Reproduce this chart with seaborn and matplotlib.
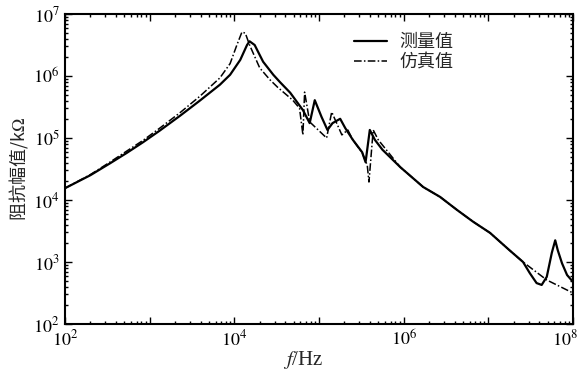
import numpy as np
import pandas as pd
import matplotlib
matplotlib.use("Agg")
import matplotlib.pyplot as plt
import matplotlib.transforms as mtransforms
import seaborn as sns
from matplotlib.ticker import LogLocator, FixedLocator, FixedFormatter, NullFormatter
from matplotlib.lines import Line2D

# log10(frequency / Hz) and log10(impedance / kOhm)
meas_logf = [2.00, 2.30, 2.53, 2.73, 2.92, 3.12, 3.36, 3.59, 3.83, 3.95, 4.07, 4.15, 4.18,
             4.24, 4.34, 4.46, 4.54, 4.66, 4.81, 4.89, 4.95, 5.03, 5.10, 5.16, 5.25, 5.31,
             5.40, 5.51, 5.55, 5.60, 5.66, 5.75, 5.96, 6.23, 6.43, 6.63, 6.82, 7.02, 7.25,
             7.41, 7.49, 7.57, 7.63, 7.69, 7.75, 7.79, 7.82, 7.87, 7.93, 8.00]
meas_logz = [4.19, 4.40, 4.59, 4.76, 4.93, 5.12, 5.36, 5.60, 5.86, 6.02, 6.26, 6.50, 6.56,
             6.50, 6.23, 6.02, 5.90, 5.73, 5.45, 5.24, 5.61, 5.34, 5.13, 5.24, 5.31, 5.16,
             4.97, 4.77, 4.61, 5.13, 4.97, 4.81, 4.53, 4.21, 4.05, 3.84, 3.65, 3.47, 3.19,
             3.00, 2.82, 2.66, 2.63, 2.76, 3.15, 3.35, 3.19, 2.98, 2.79, 2.68]

sim_logf = [2.00, 2.30, 2.53, 2.73, 2.92, 3.12, 3.36, 3.59, 3.83, 3.95, 4.03, 4.09, 4.13, 4.18,
            4.30, 4.42, 4.51, 4.69, 4.77, 4.81, 4.83, 4.89, 5.09, 5.15, 5.27, 5.34, 5.40,
            5.51, 5.57, 5.59, 5.64, 5.70, 5.96, 6.23, 6.43, 6.63, 6.82, 7.02, 7.25, 7.41,
            7.69, 8.00]
sim_logz = [4.19, 4.41, 4.61, 4.79, 4.96, 5.16, 5.41, 5.67, 5.97, 6.20, 6.50, 6.71, 6.69, 6.50,
            6.13, 5.94, 5.82, 5.61, 5.48, 5.05, 5.74, 5.26, 5.00, 5.42, 5.05, 5.13, 4.97,
            4.76, 4.56, 4.29, 5.13, 4.97, 4.53, 4.21, 4.05, 3.84, 3.65, 3.47, 3.19, 3.00,
            2.71, 2.50]

series_names = ["测量值", "仿真值"]

df = pd.concat([
    pd.DataFrame({"f": 10 ** np.array(meas_logf), "z": 10 ** np.array(meas_logz), "s": series_names[0]}),
    pd.DataFrame({"f": 10 ** np.array(sim_logf), "z": 10 ** np.array(sim_logz), "s": series_names[1]}),
])

sns.set_theme(style="ticks")
plt.rcParams["font.family"] = ["Liberation Serif", "Noto Sans CJK SC", "DejaVu Sans"]
plt.rcParams["mathtext.fontset"] = "stix"

fig = plt.figure(figsize=(5.79, 3.73), dpi=100)
ax = fig.add_axes([65 / 579, 1 - 324 / 373, (573 - 65) / 579, (324 - 14) / 373])

sns.lineplot(data=df, x="f", y="z", hue="s", sort=False,
             palette=["black", "black"], linewidth=1.5, ax=ax, legend=False)
dash_style = (0, (5, 1.5, 1, 1.5))
ax.lines[0].set_linestyle("-")
ax.lines[0].set_linewidth(1.6)
ax.lines[1].set_linestyle(dash_style)
ax.lines[1].set_linewidth(1.1)

ax.set_xscale("log")
ax.set_yscale("log")
ax.set_xlim(1e2, 1e8)
ax.set_ylim(1e2, 1e7)

xt = [1e2, 1e3, 1e4, 1e5, 1e6, 1e7, 1e8]
xl = [r"$10^{2}$", "", r"$10^{4}$", "", r"$10^{6}$", "", r"$10^{8}$"]
ax.xaxis.set_major_locator(FixedLocator(xt))
ax.xaxis.set_major_formatter(FixedFormatter(xl))
ax.xaxis.set_minor_locator(LogLocator(base=10, subs=np.arange(2, 10)))
ax.xaxis.set_minor_formatter(NullFormatter())
yt = [1e2, 1e3, 1e4, 1e5, 1e6, 1e7]
yl = [r"$10^{%d}$" % k for k in range(2, 8)]
ax.yaxis.set_major_locator(FixedLocator(yt))
ax.yaxis.set_major_formatter(FixedFormatter(yl))
ax.yaxis.set_minor_locator(LogLocator(base=10, subs=np.arange(2, 10)))
ax.yaxis.set_minor_formatter(NullFormatter())

ax.tick_params(which="both", direction="in", top=True, right=True, width=1.0, colors="black")
ax.tick_params(which="major", length=5, labelsize=13, pad=4)
ax.tick_params(which="minor", length=2.5)
for sp in ax.spines.values():
    sp.set_visible(True)
    sp.set_linewidth(1.5)
    sp.set_color("black")

# shift the last x tick label left so it stays inside the figure
last = ax.get_xticklabels()[-1]
last.set_transform(last.get_transform() + mtransforms.ScaledTranslation(-8 / 100, 0, fig.dpi_scale_trans))

ax.set_xlabel(r"$f$/Hz", fontsize=15)
ax.xaxis.set_label_coords((303 - 65) / 508, -0.08)
ax.set_ylabel("阻抗幅值/k$\\Omega$", fontsize=13, family=["Noto Sans CJK SC", "DejaVu Sans"], labelpad=2)

handles = [Line2D([], [], color="black", lw=1.6, ls="-"),
           Line2D([], [], color="black", lw=1.1, ls=dash_style)]
ax.legend(handles, series_names, loc="upper left", bbox_to_anchor=(0.537, 0.99),
          frameon=False, handlelength=1.8, handletextpad=0.7, labelspacing=0.1,
          prop={"family": ["Noto Sans CJK SC"], "size": 13})

fig.savefig("out.png", dpi=100)
